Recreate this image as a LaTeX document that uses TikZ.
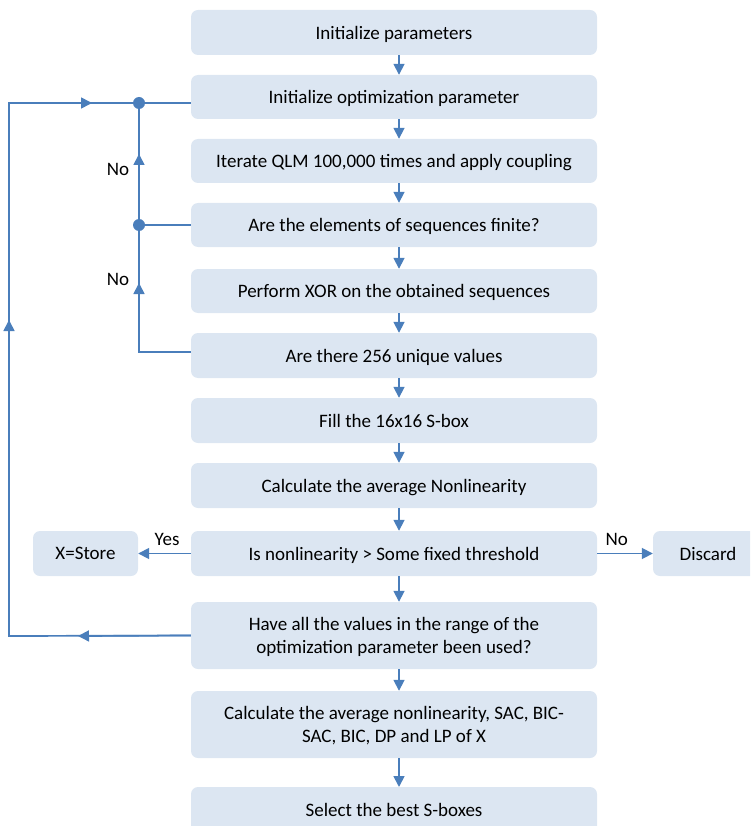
\documentclass[tikz,border=0pt]{standalone}
\usepackage{fontspec}
\setmainfont{Carlito}
\usetikzlibrary{arrows.meta}
\definecolor{boxfill}{HTML}{DCE6F2}
\definecolor{lineblue}{HTML}{4A7EBB}
\begin{document}
\begin{tikzpicture}[x=1pt,y=-1pt,
  box/.style={fill=boxfill,rounded corners=7pt,inner sep=0pt,align=center,text depth=0pt,font=\fontsize{19}{22.5}\selectfont},
  conn/.style={draw=lineblue,line width=1.7pt},
  arr/.style={conn,-{Triangle[length=11pt,width=11pt]}},
  lbl/.style={font=\fontsize{19}{22.5}\selectfont,inner sep=0pt},
  dotn/.style={circle,fill=lineblue,inner sep=0pt,minimum size=12pt}]
\useasboundingbox (0,0) rectangle (750,826);
\begin{scope}
\clip (0,0) rectangle (750,826);
\node[box,minimum width=406pt,minimum height=45pt] (b1) at (394,32.5) {Initialize parameters};
\node[box,minimum width=406pt,minimum height=44pt] (b2) at (394,97) {Initialize optimization parameter};
\node[box,minimum width=406pt,minimum height=44pt] (b3) at (394,161) {Iterate QLM 100,000 times and apply coupling};
\node[box,minimum width=406pt,minimum height=44pt] (b4) at (394,225) {Are the elements of sequences finite?};
\node[box,minimum width=406pt,minimum height=44pt] (b5) at (394,291) {Perform XOR on the obtained sequences};
\node[box,minimum width=406pt,minimum height=45pt] (b6) at (394,355.5) {Are there 256 unique values};
\node[box,minimum width=406pt,minimum height=45pt] (b7) at (394,420.5) {Fill the 16x16 S-box};
\node[box,minimum width=406pt,minimum height=45pt] (b8) at (394,485.5) {Calculate the average Nonlinearity};
\node[box,minimum width=406pt,minimum height=45pt] (b9) at (394,553.5) {Is nonlinearity > Some fixed threshold};
\node[box,minimum width=406pt,minimum height=67pt] (b10) at (394,635.5) {Have all the values in the range of the\\optimization parameter been used?};
\node[box,minimum width=406pt,minimum height=67pt] (b11) at (394,724.5) {Calculate the average nonlinearity, SAC, BIC-\\SAC, BIC, DP and LP of X};
\node[box,minimum width=406pt,minimum height=48pt] (b12) at (394,811) {};
\node[lbl] (b12t) at (394,810) {Select the best S-boxes};
\node[box,minimum width=105pt,minimum height=45pt] (store) at (85.5,553.5) {X=Store};
\node[box,minimum width=110pt,minimum height=45pt] (discard) at (708,553.5) {Discard};
\end{scope}
% vertical arrows
\foreach \a/\b in {b1/b2,b2/b3,b3/b4,b4/b5,b5/b6,b6/b7,b7/b8,b8/b9,b9/b10,b10/b11}{
  \draw[arr] ([xshift=5pt]\a.south) -- ([xshift=5pt]\b.north);
}
\coordinate (b12top) at (399,787);
\draw[arr] ([xshift=5pt]b11.south) -- (b12top);
% side arrows
\draw[arr] (b9.west) -- (store.east) node[lbl,pos=0.45,above=7pt] {Yes};
\draw[arr] (b9.east) -- (discard.west) node[lbl,pos=0.35,above=7pt] {No};
% inner loop
\node[dotn] (d1) at (139,103) {};
\node[dotn] (d2) at (139,225) {};
\coordinate (c6) at (139,352);
\draw[conn] (b6.west |- c6) -- (c6) -- (d2);
\draw[arr] (c6) -- (139,283);
\draw[conn] (d2) -- (d1);
\draw[arr] (d2) -- (139,154);
\draw[conn] (b4.west) -- (d2);
\draw[conn] (b2.west |- d1) -- (d1);
\node[lbl] (no1) at (118,169) {No};
\node[lbl] (no2) at (118,279) {No};
% outer loop
\coordinate (o1) at (9,636);
\coordinate (o2) at (9,103);
\draw[conn] (b10.west) -- (o1) -- (o2) -- (d1);
\draw[arr] (b10.west) -- (78,636);
\draw[arr] (o1) -- (9,320);
\draw[arr] (o2) -- (92,103);
\end{tikzpicture}
\end{document}
